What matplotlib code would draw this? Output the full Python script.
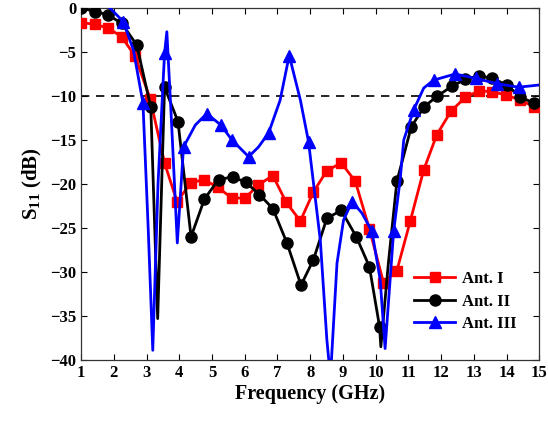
import matplotlib
matplotlib.use("Agg")
import matplotlib.pyplot as plt

# Ant. I (red squares) - every point carries a marker except the last
ant1_freq = [1.0, 1.43, 1.83, 2.24, 2.65, 3.11, 3.55, 3.93, 4.36, 4.76, 5.18, 5.61,
             6.01, 6.42, 6.86, 7.27, 7.70, 8.10, 8.51, 8.95, 9.38, 9.81, 10.24, 10.65,
             11.06, 11.47, 11.87, 12.31, 12.74, 13.15, 13.56, 13.99, 14.42, 14.83, 15.0]
ant1_s11 = [-1.67, -1.85, -2.3, -3.26, -5.5, -10.3, -17.6, -22.0, -19.85, -19.5, -20.4, -21.6,
            -21.6, -20.1, -19.05, -22.1, -24.2, -20.9, -18.5, -17.6, -19.7, -25.1, -31.2, -29.85,
            -24.2, -18.4, -14.4, -11.7, -10.15, -9.43, -9.5, -9.9, -10.45, -11.2, -11.4]
ant1_marks = list(range(len(ant1_freq) - 1))

# Ant. II (black circles)
ant2_freq = [1.0, 1.43, 1.83, 2.24, 2.70, 3.13, 3.34, 3.55, 3.96, 4.36, 4.77, 5.20,
             5.63, 6.03, 6.45, 6.86, 7.29, 7.72, 8.10, 8.51, 8.95, 9.41, 9.81, 10.12,
             10.16, 10.39, 10.65, 11.09, 11.49, 11.89, 12.33, 12.74, 13.17, 13.57, 14.01,
             14.42, 14.83, 15.0]
ant2_s11 = [0.0, -0.4, -0.8, -1.74, -4.2, -11.3, -35.3, -9.0, -12.9, -26.0, -21.7, -19.5,
            -19.2, -19.8, -21.2, -22.8, -26.7, -31.5, -28.6, -23.9, -23.0, -26.0, -29.4, -36.2,
            -38.5, -29.0, -19.7, -13.5, -11.2, -10.0, -8.9, -8.1, -7.7, -8.0, -8.75,
            -10.1, -10.8, -11.0]
ant2_marks = [0, 1, 2, 3, 4, 5, 7, 8, 9, 10, 11, 12, 13, 14, 15, 16, 17, 18, 19, 20, 21,
              22, 23, 26, 27, 28, 29, 30, 31, 32, 33, 34, 35, 36]

# Ant. III (blue triangles)
ant3_freq = [1.88, 2.29, 2.60, 2.89, 3.05, 3.19, 3.35, 3.55, 3.62, 3.75, 3.94, 4.13,
             4.49, 4.84, 5.27, 5.61, 6.12, 6.42, 6.73, 7.08, 7.36, 7.70, 7.95, 8.31,
             8.51, 8.62, 8.82, 9.02, 9.28, 9.58, 9.89, 10.14, 10.29, 10.55, 10.75, 10.86,
             11.16, 11.47, 11.77, 12.43, 13.07, 13.71, 14.37, 15.0]
ant3_s11 = [0.0, -1.55, -4.8, -10.8, -25.0, -38.9, -20.0, -5.15, -2.7, -12.0, -26.7, -15.8,
            -13.3, -12.0, -13.3, -15.0, -16.9, -15.8, -14.2, -10.5, -5.4, -10.45, -15.2, -26.4,
            -37.7, -42.0, -29.0, -24.1, -22.0, -23.3, -25.4, -30.9, -38.7, -25.4, -19.5, -15.0,
            -11.6, -9.1, -8.2, -7.5, -8.0, -8.6, -9.0, -8.75]
ant3_marks = [1, 3, 7, 11, 13, 14, 15, 16, 18, 20, 22, 28, 30, 33, 36, 38, 39, 40, 41, 42]

x_ticks = list(range(1, 16))
y_ticks = [0, -5, -10, -15, -20, -25, -30, -35, -40]
threshold = -10

plt.rcParams["font.family"] = ["Liberation Serif", "DejaVu Serif"]
plt.rcParams["font.weight"] = "bold"
plt.rcParams["mathtext.fontset"] = "custom"
plt.rcParams["mathtext.rm"] = "Liberation Serif:bold"
plt.rcParams["mathtext.it"] = "Liberation Serif:bold"
plt.rcParams["mathtext.bf"] = "Liberation Serif:bold"
plt.rcParams["mathtext.default"] = "rm"

fig = plt.figure(figsize=(5.48, 4.21), dpi=100)
ax = fig.add_axes([0.148, 0.145, 0.836, 0.836])

ax.axhline(threshold, color="black", linestyle=(0, (5, 4)), linewidth=1.2, zorder=1)

ax.plot(ant1_freq, ant1_s11, color="#ff0000", linewidth=2.0, marker="s", markersize=7,
        markevery=ant1_marks, label="Ant. I", zorder=3)
ax.plot(ant2_freq, ant2_s11, color="black", linewidth=2.0, marker="o", markersize=8,
        markevery=ant2_marks, label="Ant. II", zorder=4)
ax.plot(ant3_freq, ant3_s11, color="#0000ff", linewidth=2.0, marker="^", markersize=9,
        markevery=ant3_marks, label="Ant. III", zorder=5)

ax.set_xlim(1, 15)
ax.set_ylim(-40, 0)
ax.set_xticks(x_ticks)
ax.set_yticks(y_ticks)
ax.tick_params(direction="in", top=True, right=True, labelsize=12, length=4, width=0.8)
for lbl in ax.get_xticklabels() + ax.get_yticklabels():
    lbl.set_fontweight("bold")
for spine in ax.spines.values():
    spine.set_linewidth(0.9)
    spine.set_color("#333333")

ax.set_xlabel("Frequency (GHz)", fontsize=14.5, fontweight="bold", labelpad=2)
ax.set_ylabel("S$_{11}$ (dB)", fontsize=15, fontweight="bold", labelpad=4)

leg = ax.legend(loc="upper left", bbox_to_anchor=(0.727, 0.253), frameon=False,
                handlelength=2.45, handletextpad=0.45, labelspacing=0.4, borderaxespad=0,
                borderpad=0, prop={"weight": "bold", "size": 12})

fig.savefig("out.png", dpi=100)
